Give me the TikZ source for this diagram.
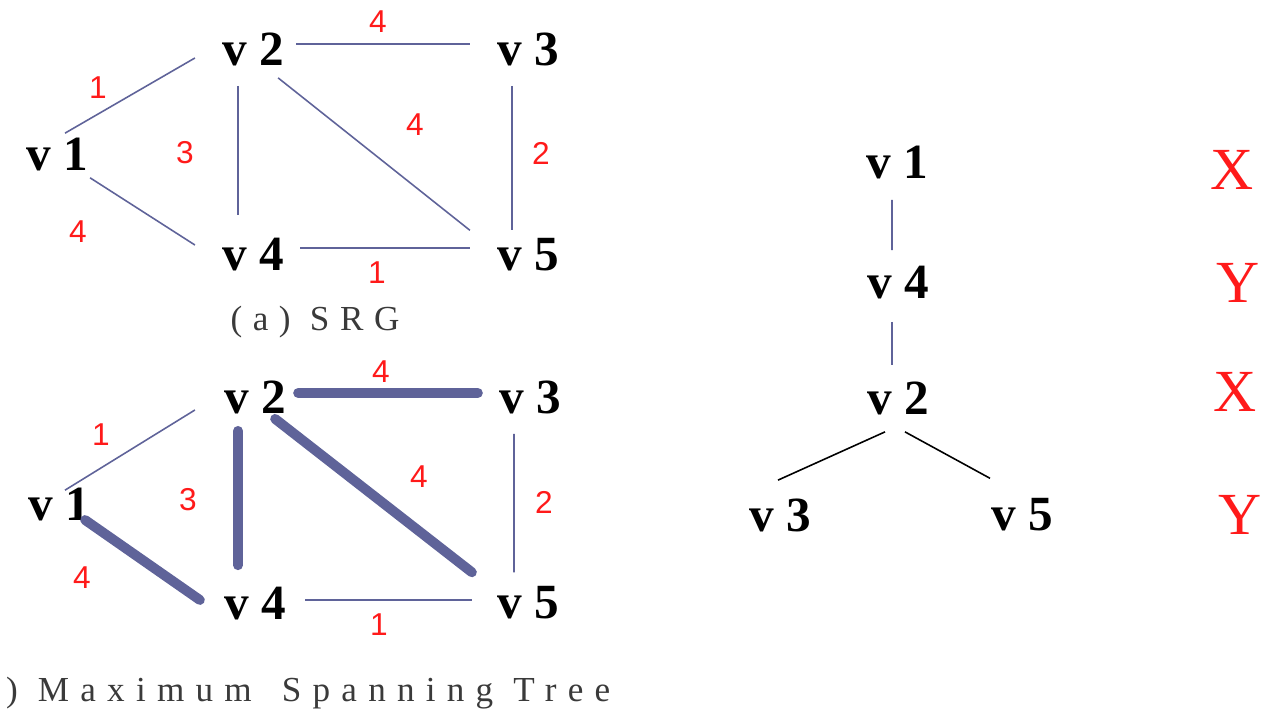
\documentclass[tikz,border=0pt]{standalone}
\usepackage{fontspec}
\setmainfont{Liberation Serif}
\newfontfamily\weightfont{Liberation Sans}
\newfontfamily\capfont{Liberation Serif}[LetterSpace=30]
\usetikzlibrary{calc,positioning}
\definecolor{SrgEdge}{HTML}{5F6399}
\definecolor{SrgRed}{HTML}{FF1A1A}
\definecolor{SrgCaption}{HTML}{3A3A3A}

\begin{document}
\begin{tikzpicture}[x=0.02cm,y=-0.02cm,
    vertex/.style={inner sep=0.24cm,font=\bfseries\fontsize{28}{30}\selectfont},
    weight/.style={text=SrgRed,font=\weightfont\fontsize{18}{20}\selectfont},
    tag/.style={text=SrgRed,font=\fontsize{34}{36}\selectfont},
    caption/.style={text=SrgCaption,font=\capfont\fontsize{20}{22}\selectfont},
    edgethin/.style={SrgEdge,line width=0.9pt},
    edgethick/.style={SrgEdge,line width=5.6pt,line cap=round},
    treeedge/.style={black,line width=0.9pt}]
  \useasboundingbox (0,0) rectangle (1261,716);

  \node[vertex] (a1) at (57,155) {v 1};
  \node[vertex] (a2) at (253,49) {v 2};
  \node[vertex] (a3) at (528,49) {v 3};
  \node[vertex] (a4) at (253,255) {v 4};
  \node[vertex] (a5) at (528,255) {v 5};

  \draw[edgethin] ([xshift=0.16cm,yshift=-0.14cm]a1.north) -- ([xshift=-0.3cm,yshift=-0.18cm]a2.west);
  \draw[edgethin] ([xshift=-0.2cm,yshift=0.12cm]a1.south east) -- ([xshift=-0.3cm,yshift=0.2cm]a4.west);
  \draw[edgethin] ([yshift=0.1cm]a2.east) -- ([xshift=-0.3cm,yshift=0.1cm]a3.west);
  \draw[edgethin] ([xshift=-0.3cm,yshift=-0.16cm]a2.south) -- ([xshift=-0.3cm,yshift=0.22cm]a4.north);
  \draw[edgethin] ([xshift=-0.36cm]a2.south east) -- ([xshift=-0.3cm,yshift=-0.08cm]a5.north west);
  \draw[edgethin] ([xshift=-0.32cm,yshift=-0.16cm]a3.south) -- ([xshift=-0.32cm,yshift=-0.08cm]a5.north);
  \draw[edgethin] ([xshift=0.08cm,yshift=0.14cm]a4.east) -- ([xshift=-0.3cm,yshift=0.14cm]a5.west);

  \node[caption] (capa) at (315,322) {(a) SRG};

  \node[vertex] (b1) at (59,504) {v 1};
  \node[vertex] (b2) at (255,397) {v 2};
  \node[vertex] (b3) at (530,397) {v 3};
  \node[vertex] (b4) at (255,604) {v 4};
  \node[vertex] (b5) at (528,603) {v 5};

  \draw[edgethin] ([xshift=0.12cm,yshift=-0.3cm]b1.north) -- ([xshift=-0.34cm,yshift=-0.26cm]b2.west);
  \draw[edgethick] ([xshift=-0.34cm,yshift=-0.32cm]b1.east) -- ([xshift=-0.24cm,yshift=0.08cm]b4.west);
  \draw[edgethick] ([yshift=0.08cm]b2.east) -- ([xshift=-0.18cm,yshift=0.08cm]b3.west);
  \draw[edgethick] ([xshift=-0.34cm,yshift=-0.1cm]b2.south) -- ([xshift=-0.34cm,yshift=0.2cm]b4.north);
  \draw[edgethick] ([xshift=-0.46cm,yshift=0.14cm]b2.south east) -- ([xshift=-0.26cm,yshift=0.04cm]b5.north west);
  \draw[edgethin] ([xshift=-0.32cm,yshift=-0.16cm]b3.south) -- ([xshift=-0.28cm,yshift=0.04cm]b5.north);
  \draw[edgethin] ([xshift=0.14cm,yshift=0.08cm]b4.east) -- ([xshift=-0.26cm,yshift=0.06cm]b5.west);

  \node[caption,anchor=west] (capb) at (0,693)
    {\addfontfeature{LetterSpace=32}) Maximum\hspace{0.2cm} Spanning Tree};

  \foreach \n/\x/\y/\w in {wa12/98/88/1,wa23/378/22/4,wa24/185/153/3,wa25/415/125/4,
      wa35/541/153/2,wa14/78/232/4,wa45/377/273/1,
      wb12/101/435/1,wb23/381/372/4,wb24/188/500/3,wb25/419/477/4,
      wb35/544/502/2,wb14/82/578/4,wb45/379/625/1}
    \node[weight] (\n) at (\x,\y) {\w};

  \node[vertex] (t1) at (897,163) {v 1};
  \node[vertex] (t4) at (898,283) {v 4};
  \node[vertex] (t2) at (898,398) {v 2};
  \node[vertex] (t3) at (780,515) {v 3};
  \node[vertex] (t5) at (1022,515) {v 5};

  \draw[edgethin] ([xshift=-0.1cm,yshift=-0.16cm]t1.south) -- ([xshift=-0.12cm,yshift=0.08cm]t4.north);
  \draw[edgethin] ([xshift=-0.12cm,yshift=-0.2cm]t4.south) -- ([xshift=-0.12cm,yshift=0.08cm]t2.north);
  \draw[treeedge] ([xshift=-0.26cm,yshift=-0.1cm]t2.south) -- ([xshift=-0.04cm,yshift=0.12cm]t3.north);
  \draw[treeedge] ([xshift=0.14cm,yshift=-0.1cm]t2.south) -- ([xshift=-0.64cm,yshift=0.16cm]t5.north);

  \foreach \n/\x/\y/\t in {k1/1232/170/X,k4/1238/283/Y,k2/1235/392/X,k35/1240/515/Y}
    \node[tag] (\n) at (\x,\y) {\t};
\end{tikzpicture}
\end{document}
